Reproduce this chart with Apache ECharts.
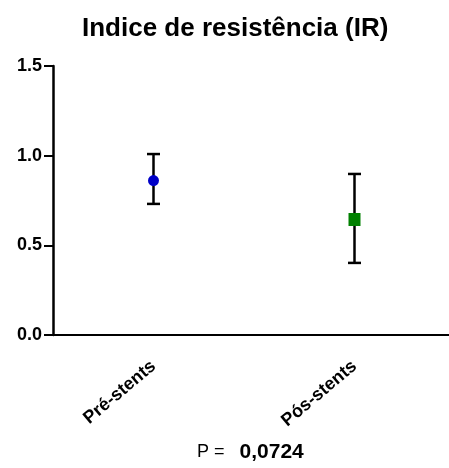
<!DOCTYPE html>
<html><head><meta charset="utf-8">
<script src="https://cdn.jsdelivr.net/npm/echarts@6/dist/echarts.min.js"></script>
<style>html,body{margin:0;padding:0;background:#fff}#c{width:449px;height:468px}</style>
</head><body><div id="c"></div>
<script>
const categories = ['Pré-stents', 'Pós-stents'];
const means = [0.861, 0.644];
const lows = [0.731, 0.402];
const highs = [1.009, 0.898];
const colors = ['#0000c8', '#008000'];
const symbols = ['circle', 'rect'];
const symbolSizes = [[11, 11], [12, 13]];
const yTicks = [0, 0.5, 1.0, 1.5];
const pLabel = 'P = ';
const pValue = '0,0724';
const font = '"Liberation Sans", Arial, sans-serif';

const chart = echarts.init(document.getElementById('c'));
chart.setOption({
  animation: false,
  title: {
    text: 'Indice de resistência (IR)', left: 77, top: 11,
    textStyle: { fontFamily: font, fontSize: 26, fontWeight: 'bold', color: '#000' }
  },
  grid: { left: 53, top: 66, width: 402, bottom: 133, containLabel: false, outerBoundsMode: 'none' },
  xAxis: {
    type: 'category', data: categories,
    axisLine: { lineStyle: { color: '#000', width: 2 } },
    axisTick: { alignWithLabel: true, length: 6, lineStyle: { color: '#000', width: 2 } },
    axisLabel: { rotate: 40, margin: 29, fontFamily: font, fontSize: 18, fontWeight: 'bold', color: '#000' }
  },
  yAxis: {
    type: 'value', min: 0, max: 1.5, interval: 0.5,
    axisLine: { show: true, lineStyle: { color: '#000', width: 2.5 } },
    axisTick: { show: true, length: 9, lineStyle: { color: '#000', width: 2 } },
    splitLine: { show: false },
    axisLabel: { margin: 11, fontFamily: font, fontSize: 18, fontWeight: 'bold', color: '#000',
      formatter: v => yTicks.includes(v) ? v.toFixed(1) : '' }
  },
  series: [
    {
      type: 'custom',
      data: categories.map((c, i) => [i, lows[i], highs[i]]),
      renderItem: function (params, api) {
        const x = api.value(0);
        const lo = api.coord([x, api.value(1)]);
        const hi = api.coord([x, api.value(2)]);
        const hw = 6.5;
        const style = { stroke: '#000', lineWidth: 2.5, fill: null };
        return {
          type: 'group',
          children: [
            { type: 'line', shape: { x1: lo[0], y1: lo[1], x2: hi[0], y2: hi[1] }, style },
            { type: 'line', shape: { x1: lo[0] - hw, y1: lo[1], x2: lo[0] + hw, y2: lo[1] }, style },
            { type: 'line', shape: { x1: hi[0] - hw, y1: hi[1], x2: hi[0] + hw, y2: hi[1] }, style }
          ]
        };
      },
      z: 2
    },
    {
      type: 'scatter',
      data: categories.map((c, i) => ({
        value: [i, means[i]],
        symbol: symbols[i],
        symbolSize: symbolSizes[i],
        itemStyle: { color: colors[i], opacity: 1 }
      })),
      z: 3
    }
  ],
  graphic: [{
    type: 'text', left: 197, top: 442,
    style: {
      text: '{a|' + pLabel + '  }{b|' + pValue + '}',
      rich: {
        a: { fontFamily: font, fontSize: 18, color: '#000' },
        b: { fontFamily: font, fontSize: 21, fontWeight: 'bold', color: '#000' }
      }
    }
  }]
});
</script></body></html>
